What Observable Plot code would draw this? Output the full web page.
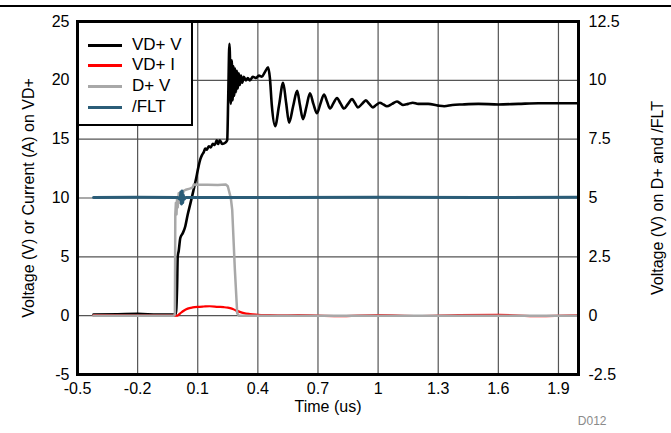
<!DOCTYPE html>
<html>
<head>
<meta charset="utf-8">
<script src="https://cdn.jsdelivr.net/npm/d3@7"></script>
<script src="https://cdn.jsdelivr.net/npm/@observablehq/plot@0.6"></script>
<style>
  html, body { margin: 0; padding: 0; background: #fff; }
  #wrap { position: relative; width: 671px; height: 433px; font-family: "Liberation Sans", Arial, sans-serif; }
  #rule { position: absolute; left: 0; top: 5px; width: 671px; height: 1.5px; background: #000; }
  #legend { position: absolute; left: 77px; top: 21px; width: 112px; height: 101px; border: 2.5px solid #000; background: #fff; }
  .row { position: absolute; left: 0; height: 20px; display: flex; align-items: center; }
  .sw { width: 34px; height: 3px; margin-left: 9px; margin-right: 10px; }
  .lb { font-size: 17px; color: #000; line-height: 20px; }
</style>
</head>
<body>
<div id="wrap">
  <div id="chart"></div>
  <div id="rule"></div>
  <div id="legend"></div>
</div>
<script>
// ---- Data ----
// Series names / colours
const seriesNames = ["VD+ V", "VD+ I", "D+ V", "/FLT"];
const seriesColors = ["#000000", "#ff0000", "#a8a8a8", "#2b5d78"];

// VD+ V (left axis, volts)
const vdvT = [-0.42,-0.3,-0.2,-0.1,-0.01,-0.003,0.0,0.005,0.013,0.025,0.038,0.05,0.063,0.078,0.09,0.103,0.113,0.123,0.13,0.137,0.145,0.155,0.165,0.175,0.185,0.195,0.202,0.21,0.222,0.237,0.247,0.252,0.258,0.262,0.265,0.27,0.274,0.278,0.282,0.287,0.291,0.296,0.30,0.305,0.31,0.316,0.322,0.33,0.34,0.35,0.36,0.375,0.39,0.405,0.42,0.435,0.451,0.46,0.47,0.486,0.506,0.526,0.541,0.556,0.576,0.596,0.61,0.625,0.643,0.66,0.677,0.695,0.712,0.73,0.745,0.76,0.777,0.795,0.812,0.83,0.85,0.87,0.885,0.899,0.92,0.939,0.956,0.974,0.99,1.009,1.026,1.044,1.07,1.094,1.11,1.124,1.15,1.173,1.2,1.25,1.3,1.33,1.37,1.42,1.5,1.6,1.7,1.8,1.9,2.0];
const vdvV = [0.1,0.12,0.15,0.1,0.1,2.5,5.0,5.5,6.6,7.0,7.6,8.6,9.5,10.6,11.5,12.6,13.3,13.7,13.9,14.2,14.1,14.4,14.3,14.6,14.5,14.9,14.6,14.9,14.6,14.7,14.9,18.5,23.1,21.0,18.0,21.7,18.3,21.2,18.7,21.0,19.0,20.8,19.3,20.6,19.6,20.4,19.8,20.3,20.0,20.2,20.0,20.3,20.2,20.4,20.3,20.7,21.1,20.2,17.8,16.1,17.9,19.8,18.1,16.4,17.8,19.1,17.9,16.7,17.8,18.9,18.0,17.2,18.0,18.8,18.2,17.6,18.05,18.5,18.05,17.6,18.0,18.4,18.05,17.7,18.0,18.3,18.0,17.7,17.9,18.1,17.95,17.8,18.0,18.2,18.05,17.9,18.0,18.1,18.0,18.0,17.85,17.8,17.9,17.95,18.0,17.95,18.0,18.05,18.05,18.05];

// VD+ I (left axis, amps)
const vdiT = [-0.42,-0.2,-0.005,0.0,0.013,0.03,0.05,0.075,0.1,0.13,0.16,0.2,0.23,0.25,0.27,0.29,0.31,0.33,0.36,0.4,0.45,0.5,0.6,0.8,1.0,1.2,1.4,1.6,1.8,2.0];
const vdiV = [0.02,0.0,0.0,0.02,0.2,0.42,0.6,0.7,0.75,0.78,0.8,0.75,0.72,0.68,0.6,0.45,0.32,0.22,0.14,0.08,0.05,0.03,0.04,-0.04,0.05,-0.03,0.05,0.06,-0.04,0.02];

// D+ V (right axis, volts)
const dpT = [-0.42,-0.02,-0.014,-0.012,-0.009,-0.006,-0.003,0.0,0.005,0.01,0.015,0.02,0.03,0.04,0.06,0.075,0.08,0.1,0.15,0.2,0.24,0.25,0.265,0.272,0.285,0.297,0.305,2.0];
const dpV = [0.0,0.0,0.05,4.3,4.8,4.3,5.0,4.6,5.2,4.8,5.25,5.0,5.3,5.35,5.4,5.45,5.57,5.56,5.56,5.55,5.57,5.5,5.0,4.5,2.0,0.1,0.0,0.0];

// /FLT (right axis, volts)
const fltT = [-0.42,-0.2,0.0,0.012,0.016,0.019,0.022,0.025,0.028,0.032,0.04,0.5,1.0,1.5,2.0];
const fltV = [5.02,5.03,5.02,4.95,5.25,4.75,5.3,4.8,5.12,4.95,5.02,5.02,5.03,5.02,5.03];

// Axes ticks / labels
const xTicks = [-0.5,-0.2,0.1,0.4,0.7,1.0,1.3,1.6,1.9];
const xTickLabels = ["-0.5","-0.2","0.1","0.4","0.7","1","1.3","1.6","1.9"];
const yTicks = [-5,0,5,10,15,20,25];
const yTickLabels = ["-5","0","5","10","15","20","25"];
const y2TickLabels = ["-2.5","0","2.5","5","7.5","10","12.5"];
const rightToLeft = 2; // right axis spans half of the left axis

// ---- Build tables ----
const rows = (ts, vs, k) => ts.map((t, i) => ({t, v: vs[i] * k}));
const dVDV = rows(vdvT, vdvV, 1);
const dVDI = rows(vdiT, vdiV, 1);
const dDP = rows(dpT, dpV, rightToLeft);
const dFLT = rows(fltT, fltV, rightToLeft);

const chart = Plot.plot({
  width: 671,
  height: 433,
  marginLeft: 77,
  marginRight: 93,
  marginTop: 21,
  marginBottom: 59,
  style: {fontFamily: "'Liberation Sans', Arial, sans-serif", fontSize: "16px", color: "#000", background: "#fff"},
  x: {domain: [-0.5, 2.0]},
  y: {domain: [-5, 25]},
  marks: [
    Plot.gridX(xTicks, {stroke: "#555", strokeOpacity: 1, strokeWidth: 1.2}),
    Plot.gridY(yTicks, {stroke: "#555", strokeOpacity: 1, strokeWidth: 1.2}),
    Plot.axisX({ticks: xTicks, tickFormat: d => xTickLabels[xTicks.indexOf(d)], tickSize: 0, tickPadding: 8,
      label: "Time (us)", labelAnchor: "center", labelOffset: 37, labelArrow: "none"}),
    Plot.axisY({ticks: yTicks, tickFormat: d => yTickLabels[yTicks.indexOf(d)], tickSize: 0, tickPadding: 8,
      label: "Voltage (V) or Current (A) on VD+", labelAnchor: "center", labelOffset: 55, labelArrow: "none"}),
    Plot.axisY({anchor: "right", ticks: yTicks, tickFormat: d => y2TickLabels[yTicks.indexOf(d)], tickSize: 0, tickPadding: 10,
      label: "Voltage (V) on D+ and /FLT", labelAnchor: "center", labelOffset: 84, labelArrow: "none"}),
    Plot.line(dVDV, {x: "t", y: "v", stroke: seriesColors[0], strokeWidth: 2.6, curve: "monotone-x"}),
    Plot.line(dVDI, {x: "t", y: "v", stroke: seriesColors[1], strokeWidth: 2.2, curve: "monotone-x"}),
    Plot.line(dDP, {x: "t", y: "v", stroke: seriesColors[2], strokeWidth: 2.5, curve: "linear"}),
    Plot.line(dFLT, {x: "t", y: "v", stroke: seriesColors[3], strokeWidth: 3, curve: "linear"}),
    Plot.frame({stroke: "#000", strokeWidth: 3}),
    Plot.text(["D012"], {frameAnchor: "bottom-right", dx: 28, dy: 50, fill: "#8a8a8a", fontSize: 12})
  ]
});
document.getElementById("chart").appendChild(chart);

// Legend
const leg = document.getElementById("legend");
const rowTops = [12, 32, 53, 74];
seriesNames.forEach((name, i) => {
  const r = document.createElement("div");
  r.className = "row";
  r.style.top = rowTops[i] + "px";
  const sw = document.createElement("div");
  sw.className = "sw";
  sw.style.background = seriesColors[i];
  const lb = document.createElement("span");
  lb.className = "lb";
  lb.textContent = name;
  r.appendChild(sw); r.appendChild(lb);
  leg.appendChild(r);
});
</script>
</body>
</html>
